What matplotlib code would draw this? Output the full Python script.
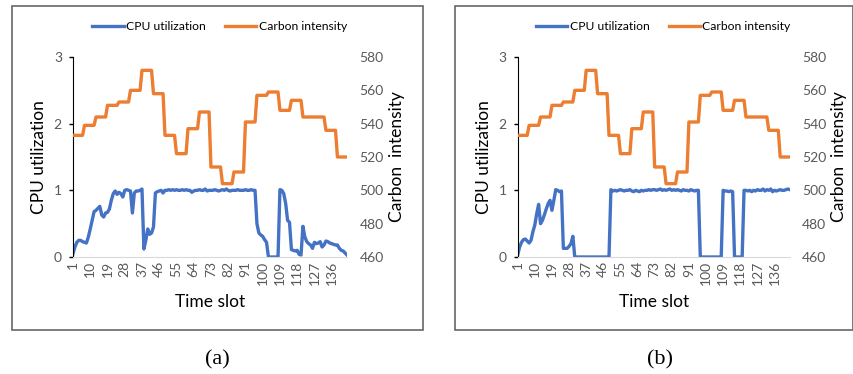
"""
Два графика: загрузка CPU и углеродная интенсивность по временным слотам.
"""

import numpy as np
import matplotlib.pyplot as plt
from matplotlib.patches import Rectangle

# Временные слоты 1..144
slots = np.arange(1, 145)

# Углеродная интенсивность: одно значение на 6 слотов (24 ступени)
carbon_steps = [533, 539, 544, 551, 553, 560, 572, 558, 533, 522, 537, 547,
                514, 504, 511, 541, 557, 559, 548, 554, 544, 544, 536, 520]

# Загрузка CPU, панель (a)
cpu_a = [0.05, 0.15, 0.22, 0.25, 0.25, 0.23, 0.22, 0.21, 0.30, 0.42, 0.55, 0.68,
         0.70, 0.73, 0.76, 0.63, 0.60, 0.66, 0.67, 0.72, 0.85, 0.95, 0.99, 0.94,
         0.97, 0.95, 0.90, 1.00, 1.01, 1.00, 0.99, 0.66, 0.96, 0.99, 0.99, 1.00,
         1.02, 0.12, 0.25, 0.42, 0.34, 0.36, 0.45, 0.96, 0.98, 0.99, 1.00, 0.96,
         1.00, 1.00, 1.01, 1.00, 1.01, 1.00, 1.01, 1.00, 1.00, 1.01, 1.00, 1.01,
         1.00, 1.00, 0.97, 0.99, 1.00, 1.00, 1.01, 1.00, 1.00, 1.02, 0.99, 1.00,
         1.00, 1.00, 1.01, 1.00, 0.99, 1.00, 1.01, 1.00, 1.02, 1.00, 0.99, 1.00,
         1.00, 1.00, 1.01, 1.00, 1.00, 1.00, 1.01, 1.00, 1.00, 1.01, 1.00, 1.00,
         0.50, 0.36, 0.33, 0.31, 0.26, 0.22, 0.00, 0.00, 0.00, 0.00, 0.00, 0.00,
         1.01, 1.00, 0.95, 0.80, 0.55, 0.52, 0.11, 0.10, 0.09, 0.10, 0.04, 0.03,
         0.46, 0.30, 0.23, 0.20, 0.18, 0.13, 0.22, 0.20, 0.21, 0.23, 0.15, 0.18,
         0.24, 0.23, 0.21, 0.20, 0.19, 0.18, 0.18, 0.13, 0.10, 0.09, 0.06, 0.03]

# Загрузка CPU, панель (b)
cpu_b = [0.03, 0.15, 0.22, 0.26, 0.27, 0.24, 0.21, 0.25, 0.38, 0.48, 0.65, 0.79,
         0.50, 0.55, 0.63, 0.72, 0.80, 0.85, 0.70, 0.85, 1.01, 1.00, 0.98, 0.99,
         0.13, 0.13, 0.13, 0.16, 0.20, 0.31, 0.00, 0.00, 0.00, 0.00, 0.00, 0.00,
         0.00, 0.00, 0.00, 0.00, 0.00, 0.00, 0.00, 0.00, 0.00, 0.00, 0.00, 0.00,
         0.00, 1.01, 0.99, 1.00, 0.99, 1.00, 1.01, 1.00, 0.99, 1.00, 1.00, 1.01,
         0.99, 0.98, 1.00, 0.99, 0.98, 1.00, 0.99, 1.00, 1.00, 1.01, 1.00, 1.01,
         1.01, 1.00, 1.01, 1.02, 1.00, 1.01, 1.00, 1.01, 1.02, 1.00, 1.01, 1.00,
         1.01, 1.00, 0.99, 1.01, 1.00, 1.00, 0.99, 1.01, 1.00, 0.99, 1.00, 1.00,
         0.00, 0.00, 0.00, 0.00, 0.00, 0.00, 0.00, 0.00, 0.00, 0.00, 0.00, 0.00,
         1.00, 0.99, 0.99, 0.98, 0.99, 0.98, 0.00, 0.00, 0.00, 0.00, 0.00, 1.00,
         1.00, 0.99, 1.00, 0.98, 1.00, 0.99, 1.01, 1.00, 1.00, 1.02, 0.99, 1.01,
         1.00, 1.02, 0.98, 1.00, 0.99, 1.00, 1.01, 1.00, 1.00, 1.01, 1.02, 1.01]

xtick_labels = [1, 10, 19, 28, 37, 46, 55, 64, 73, 82, 91, 100, 109, 118, 127, 136]
captions = ['(a)', '(b)']

BLUE = '#4472C4'
ORANGE = '#ED7D31'
GRAY = '#595959'


def draw_panel(fig, rect, cpu, carbon):
    ax = fig.add_axes(rect)
    ax2 = ax.twinx()

    l1, = ax.plot(slots, cpu, color=BLUE, lw=2.4, solid_joinstyle='round',
                  label='CPU utilization')
    l2, = ax2.plot(slots, carbon, color=ORANGE, lw=2.4, solid_joinstyle='round',
                   label='Carbon intensity')

    ax.set_xlim(1, 144)
    ax.set_ylim(0, 3)
    ax.set_yticks([0, 1, 2, 3])
    ax2.set_ylim(460, 580)
    ax2.set_yticks(range(460, 581, 20))

    ax.set_xticks(xtick_labels)
    ax.set_xticklabels([str(t) for t in xtick_labels], rotation=90)
    ax.tick_params(axis='x', length=0, pad=3, labelsize=10, labelcolor=GRAY)
    ax.tick_params(axis='y', length=3, width=1, pad=5, labelsize=10,
                   labelcolor=GRAY, color='black')
    ax2.tick_params(axis='y', length=0, pad=9, labelsize=10, labelcolor=GRAY)

    for a in (ax, ax2):
        for side in ('top', 'right', 'left', 'bottom'):
            a.spines[side].set_visible(False)
    ax.spines['left'].set_visible(True)
    ax.spines['left'].set_color('black')
    ax.spines['bottom'].set_visible(True)
    ax.spines['bottom'].set_color('#D9D9D9')

    ax.set_ylabel('CPU utilization', fontsize=12.5)
    ax.yaxis.set_label_coords(-0.095, 0.5)
    ax2.set_ylabel('Carbon  intensity', fontsize=12.5, rotation=90)
    ax2.yaxis.set_label_coords(1.153, 0.5)
    ax.set_xlabel('Time slot', fontsize=12.5)
    ax.xaxis.set_label_coords(0.5, -0.185)

    ax.legend(handles=[l1, l2], loc='center', bbox_to_anchor=(0.535, 1.15),
              ncol=2, frameon=False, fontsize=8.7, handlelength=2.6,
              handletextpad=0.2, columnspacing=1.6)
    return ax


def main():
    plt.rcParams['font.family'] = ['Lato', 'DejaVu Sans']

    fig = plt.figure(figsize=(8.54, 3.74), dpi=100)

    carbon = np.repeat(carbon_steps, 6)

    # Рамки вокруг панелей
    for x0, w in [(11.7, 411.0), (455.0, 398.0)]:
        fig.add_artist(Rectangle((x0 / 854, 1 - 330 / 374), w / 854, 323.7 / 374,
                                 transform=fig.transFigure, fill=False,
                                 edgecolor='#666666', lw=1.2))

    draw_panel(fig, [73 / 854, 1 - 257 / 374, 274 / 854, 200 / 374], cpu_a, carbon)
    draw_panel(fig, [517.7 / 854, 1 - 257 / 374, 272 / 854, 200 / 374], cpu_b, carbon)

    # Подписи панелей
    for x, txt in zip([217, 660], captions):
        fig.text(x / 854, 1 - 360 / 374, txt, ha='center', va='center',
                 fontsize=16, family='Liberation Serif')

    fig.savefig('out.png', dpi=100)


if __name__ == "__main__":
    main()
